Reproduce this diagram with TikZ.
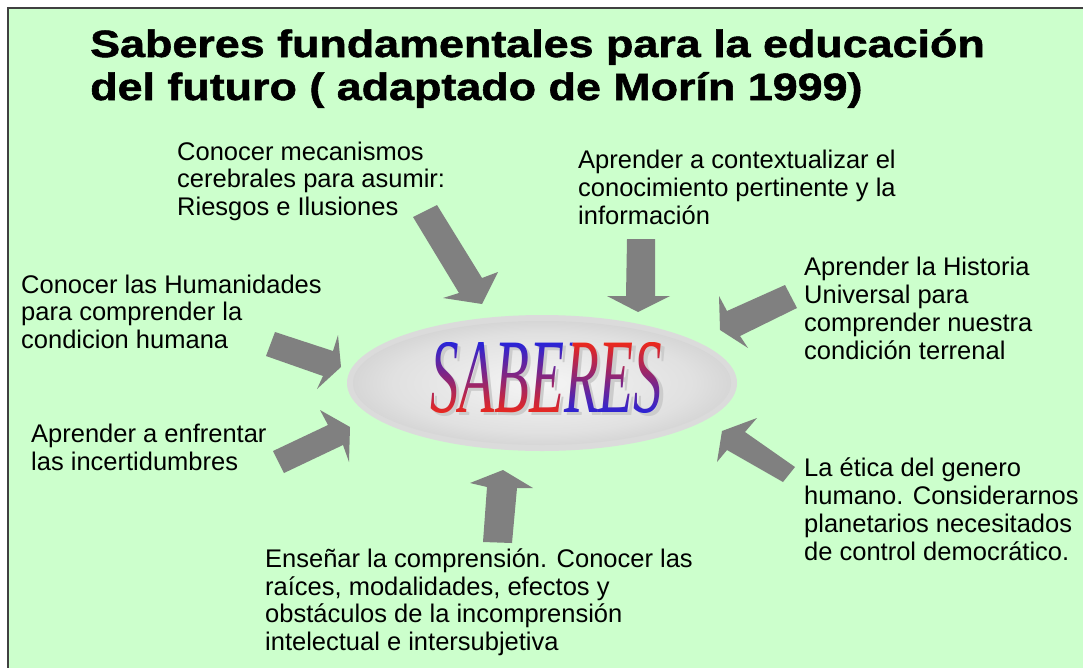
\documentclass[tikz,border=0pt]{standalone}
\usepackage{fontspec}
\usepackage{graphicx}
\setmainfont{Liberation Sans}
\newfontfamily\ttlfont{Liberation Sans}[BoldFeatures={FakeBold=1.3}]
\newfontfamily\sabfont{Liberation Serif Italic}
\usetikzlibrary{fadings,shadings}
\definecolor{bggreen}{HTML}{CCFFCC}
\definecolor{arrgray}{HTML}{808080}
\definecolor{sabblue}{HTML}{2424DC}
\definecolor{sabred}{HTML}{F02818}
\pgfdeclareradialshading{ellshade}{\pgfpoint{0bp}{0bp}}{color(0bp)=(black!4); color(20bp)=(black!12); color(50bp)=(black!36)}
\begin{tikzfadingfrompicture}[name=sabfade]
  \node[inner sep=0pt, text=transparent!0, font=\sabfont\fontsize{106}{106}\selectfont] {\scalebox{0.54}[1]{SABERES}};
\end{tikzfadingfrompicture}
\begin{document}
\begin{tikzpicture}[x=1pt,y=-1pt,
  lbl/.style={anchor=base west, align=left, inner sep=0pt, font=\fontsize{25.5}{27.7}\selectfont, text=black},
  ttl/.style={anchor=base west, inner sep=0pt, font=\ttlfont\bfseries\fontsize{38}{44}\selectfont, text=black},
  blk/.style={fill=arrgray, draw=none},
  sabfill/.style={path fading=sabfade, fit fading=false, fading transform={shift={(546.5,378)}}}]
\useasboundingbox (0,0) rectangle (1083,667);
\fill[white] (0,0) rectangle (1083,667);
\fill[bggreen] (8,8) rectangle (1100,700);
\draw[line width=1.5pt, black!75] (8,700) -- (8,8) -- (1100,8);
% title
\node[ttl] (title1) at (90,57) {\scalebox{1.18}[1]{Saberes fundamentales para la educación}};
\node[ttl] (title2) at (90,100) {\scalebox{1.18}[1]{del futuro ( adaptado de Morín 1999)}};
% central ellipse
\fill[black!14] (542,383) ellipse [x radius=195, y radius=68];
\shade[shading=ellshade] (542,383) ellipse [x radius=189, y radius=62];
\node[inner sep=0pt, text=black!20, font=\sabfont\fontsize{106}{106}\selectfont] (sabshadow) at (550,381) {\scalebox{0.54}[1]{SABERES}};
\shade[sabfill, top color=sabblue, bottom color=sabred]
  (428,341) -- (573,341) -- (563,415) -- (428,415) -- cycle;
\shade[sabfill, top color=sabred, bottom color=sabblue]
  (573,341) -- (668,341) -- (668,415) -- (563,415) -- cycle;
% arrows
\fill[blk] (413,217) -- (437,205) -- (482,278) -- (498,272) -- (482,304) -- (443,298) -- (459,293) -- cycle;
\fill[blk] (627,239) -- (655,239) -- (655,296) -- (670,296) -- (638,312) -- (607,296) -- (626,296) -- cycle;
\fill[blk] (785,285) -- (797,308) -- (740,336) -- (748,348) -- (720,330) -- (719,296) -- (727,311) -- cycle;
\fill[blk] (795,467) -- (745,432) -- (757,418) -- (722,431) -- (717,462) -- (727,450) -- (783,482) -- cycle;
\fill[blk] (275,332) -- (333,351) -- (338,335) -- (341,367) -- (317,389) -- (323,376) -- (266,356) -- cycle;
\fill[blk] (273,451) -- (328,425) -- (320,410) -- (350,427) -- (349,462) -- (343,445) -- (284,473) -- cycle;
\fill[blk] (483,542) -- (487,487) -- (470,483) -- (503,470) -- (533,488) -- (517,488) -- (512,543) -- cycle;
% labels (anchor = baseline of the last line)
\node[lbl] (t1) at (177,215.5) {Conocer mecanismos\\cerebrales para asumir:\\Riesgos e Ilusiones};
\node[lbl] (t2) at (578,224) {Aprender a contextualizar el\\conocimiento pertinente y la\\información};
\node[lbl] (t3) at (804,359) {Aprender la Historia\\Universal para\\comprender nuestra\\condición terrenal};
\node[lbl] (t4) at (21,348.5) {Conocer las Humanidades\\para comprender la\\condicion humana};
\node[lbl] (t5) at (31,470.5) {Aprender a enfrentar\\las incertidumbres};
\node[lbl] (t6) at (804,560) {La ética del genero\\humano. Considerarnos\\planetarios necesitados\\de control democrático.};
\node[lbl] (t7) at (265,650.5) {Enseñar la comprensión. Conocer las\\raíces, modalidades, efectos y\\obstáculos de la incomprensión\\intelectual e intersubjetiva};
\end{tikzpicture}
\end{document}
